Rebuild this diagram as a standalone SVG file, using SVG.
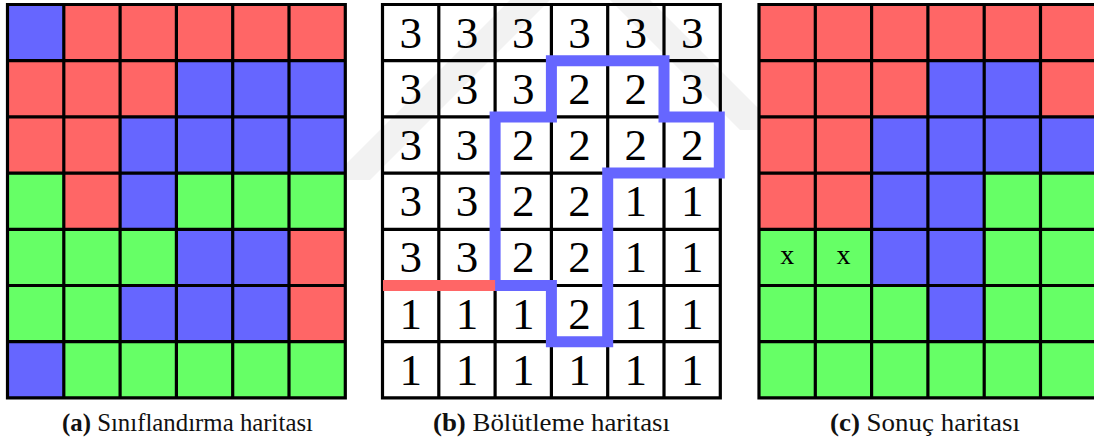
<svg xmlns="http://www.w3.org/2000/svg" width="1094" height="441" viewBox="0 0 1094 441">
  <style>
    .r { fill: #FF6666; }
    .b { fill: #6666FF; }
    .g { fill: #66FF66; }
    .grid { fill: none; stroke: #000; stroke-width: 3.2; stroke-linecap: square; }
    .num { font-family: "Liberation Serif", "DejaVu Serif", serif; font-size: 45px; fill: #000; text-anchor: middle; }
    .mark { font-family: "Liberation Serif", "DejaVu Serif", serif; font-size: 28px; fill: #000; text-anchor: middle; }
    .cap { font-family: "Liberation Serif", "DejaVu Serif", serif; font-size: 26px; fill: #111; }
    .cap .lbl { font-weight: bold; }
    .region { fill: none; stroke: #6666FF; stroke-width: 11; stroke-linejoin: miter; }
    .seam { fill: none; stroke: #FF6666; stroke-width: 11; stroke-linecap: butt; }
    .wm { fill: #F2F2F2; }
  </style>
  <defs>
    <!-- 6 x 7 cell lattice, cell 56.3 x 56.2 -->
    <path id="lattice" d="M0,0 H337.8 V393.4 H0 Z M56.3,0 V393.4 M112.6,0 V393.4 M168.9,0 V393.4 M225.2,0 V393.4 M281.5,0 V393.4 M0,56.2 H337.8 M0,112.4 H337.8 M0,168.6 H337.8 M0,224.8 H337.8 M0,281 H337.8 M0,337.2 H337.8"/>
    <clipPath id="wmclip"><rect x="0" y="0" width="1094" height="180"/></clipPath>
  </defs>
  <rect x="0" y="0" width="1094" height="441" fill="#FFFFFF"/>

  <!-- faint background watermark -->
  <g id="watermark" clip-path="url(#wmclip)">
    <polygon class="wm" points="330,180 370,180 550,0 510,0"/>
    <polygon class="wm" points="610,0 650,0 780,130 740,130"/>
  </g>

  <!-- (a) classification map -->
  <g id="panel-a" transform="translate(7.5,4.5)">
    <g>
      <rect class="b" x="0" y="0" width="56.3" height="56.2"/>
      <rect class="r" x="56.3" y="0" width="281.5" height="56.2"/>
      <rect class="r" x="0" y="56.2" width="168.9" height="56.2"/>
      <rect class="b" x="168.9" y="56.2" width="168.9" height="56.2"/>
      <rect class="r" x="0" y="112.4" width="112.6" height="56.2"/>
      <rect class="b" x="112.6" y="112.4" width="225.2" height="56.2"/>
      <rect class="g" x="0" y="168.6" width="56.3" height="56.2"/>
      <rect class="r" x="56.3" y="168.6" width="56.3" height="56.2"/>
      <rect class="b" x="112.6" y="168.6" width="56.3" height="56.2"/>
      <rect class="g" x="168.9" y="168.6" width="168.9" height="56.2"/>
      <rect class="g" x="0" y="224.8" width="168.9" height="56.2"/>
      <rect class="b" x="168.9" y="224.8" width="112.6" height="56.2"/>
      <rect class="r" x="281.5" y="224.8" width="56.3" height="56.2"/>
      <rect class="g" x="0" y="281" width="112.6" height="56.2"/>
      <rect class="b" x="112.6" y="281" width="168.9" height="56.2"/>
      <rect class="r" x="281.5" y="281" width="56.3" height="56.2"/>
      <rect class="b" x="0" y="337.2" width="56.3" height="56.2"/>
      <rect class="g" x="56.3" y="337.2" width="281.5" height="56.2"/>
    </g>
    <use href="#lattice" class="grid"/>
  </g>

  <!-- (b) segmentation map -->
  <g id="panel-b" transform="translate(382.5,4.5)">
    <use href="#lattice" class="grid"/>
    <g class="num">
      <text x="28.15" y="43">3</text><text x="84.45" y="43">3</text><text x="140.75" y="43">3</text><text x="197.05" y="43">3</text><text x="253.35" y="43">3</text><text x="309.65" y="43">3</text>
      <text x="28.15" y="99.2">3</text><text x="84.45" y="99.2">3</text><text x="140.75" y="99.2">3</text><text x="197.05" y="99.2">2</text><text x="253.35" y="99.2">2</text><text x="309.65" y="99.2">3</text>
      <text x="28.15" y="155.4">3</text><text x="84.45" y="155.4">3</text><text x="140.75" y="155.4">2</text><text x="197.05" y="155.4">2</text><text x="253.35" y="155.4">2</text><text x="309.65" y="155.4">2</text>
      <text x="28.15" y="211.6">3</text><text x="84.45" y="211.6">3</text><text x="140.75" y="211.6">2</text><text x="197.05" y="211.6">2</text><text x="253.35" y="211.6">1</text><text x="309.65" y="211.6">1</text>
      <text x="28.15" y="267.8">3</text><text x="84.45" y="267.8">3</text><text x="140.75" y="267.8">2</text><text x="197.05" y="267.8">2</text><text x="253.35" y="267.8">1</text><text x="309.65" y="267.8">1</text>
      <text x="28.15" y="324">1</text><text x="84.45" y="324">1</text><text x="140.75" y="324">1</text><text x="197.05" y="324">2</text><text x="253.35" y="324">1</text><text x="309.65" y="324">1</text>
      <text x="28.15" y="380.2">1</text><text x="84.45" y="380.2">1</text><text x="140.75" y="380.2">1</text><text x="197.05" y="380.2">1</text><text x="253.35" y="380.2">1</text><text x="309.65" y="380.2">1</text>
    </g>
  </g>

  <!-- region outline and seam drawn over panel (b) -->
  <g id="connectors" transform="translate(382.5,4.5)">
    <path class="region" d="M168.9,56.2 H281.5 V112.4 H336.8 V168.6 H225.2 V337.2 H168.9 V281 H112.6 V112.4 H168.9 Z"/>
    <path class="seam" d="M0.5,281 H112.6"/>
  </g>

  <!-- (c) result map -->
  <g id="panel-c" transform="translate(759,4.5)">
    <g>
      <rect class="r" x="0" y="0" width="337.8" height="56.2"/>
      <rect class="r" x="0" y="56.2" width="168.9" height="56.2"/>
      <rect class="b" x="168.9" y="56.2" width="112.6" height="56.2"/>
      <rect class="r" x="281.5" y="56.2" width="56.3" height="56.2"/>
      <rect class="r" x="0" y="112.4" width="112.6" height="56.2"/>
      <rect class="b" x="112.6" y="112.4" width="225.2" height="56.2"/>
      <rect class="r" x="0" y="168.6" width="112.6" height="56.2"/>
      <rect class="b" x="112.6" y="168.6" width="112.6" height="56.2"/>
      <rect class="g" x="225.2" y="168.6" width="112.6" height="56.2"/>
      <rect class="g" x="0" y="224.8" width="112.6" height="56.2"/>
      <rect class="b" x="112.6" y="224.8" width="112.6" height="56.2"/>
      <rect class="g" x="225.2" y="224.8" width="112.6" height="56.2"/>
      <rect class="g" x="0" y="281" width="168.9" height="56.2"/>
      <rect class="b" x="168.9" y="281" width="56.3" height="56.2"/>
      <rect class="g" x="225.2" y="281" width="112.6" height="56.2"/>
      <rect class="g" x="0" y="337.2" width="337.8" height="56.2"/>
    </g>
    <use href="#lattice" class="grid"/>
    <text class="mark" x="28.15" y="259.5">x</text>
    <text class="mark" x="84.45" y="259.5">x</text>
  </g>

  <!-- captions -->
  <g id="captions">
    <text class="cap" x="62" y="431" textLength="251" lengthAdjust="spacingAndGlyphs"><tspan class="lbl">(a)</tspan> Sınıflandırma haritası</text>
    <text class="cap" x="433" y="431" textLength="237" lengthAdjust="spacingAndGlyphs"><tspan class="lbl">(b)</tspan> Bölütleme haritası</text>
    <text class="cap" x="830" y="431" textLength="190" lengthAdjust="spacingAndGlyphs"><tspan class="lbl">(c)</tspan> Sonuç haritası</text>
  </g>
</svg>
